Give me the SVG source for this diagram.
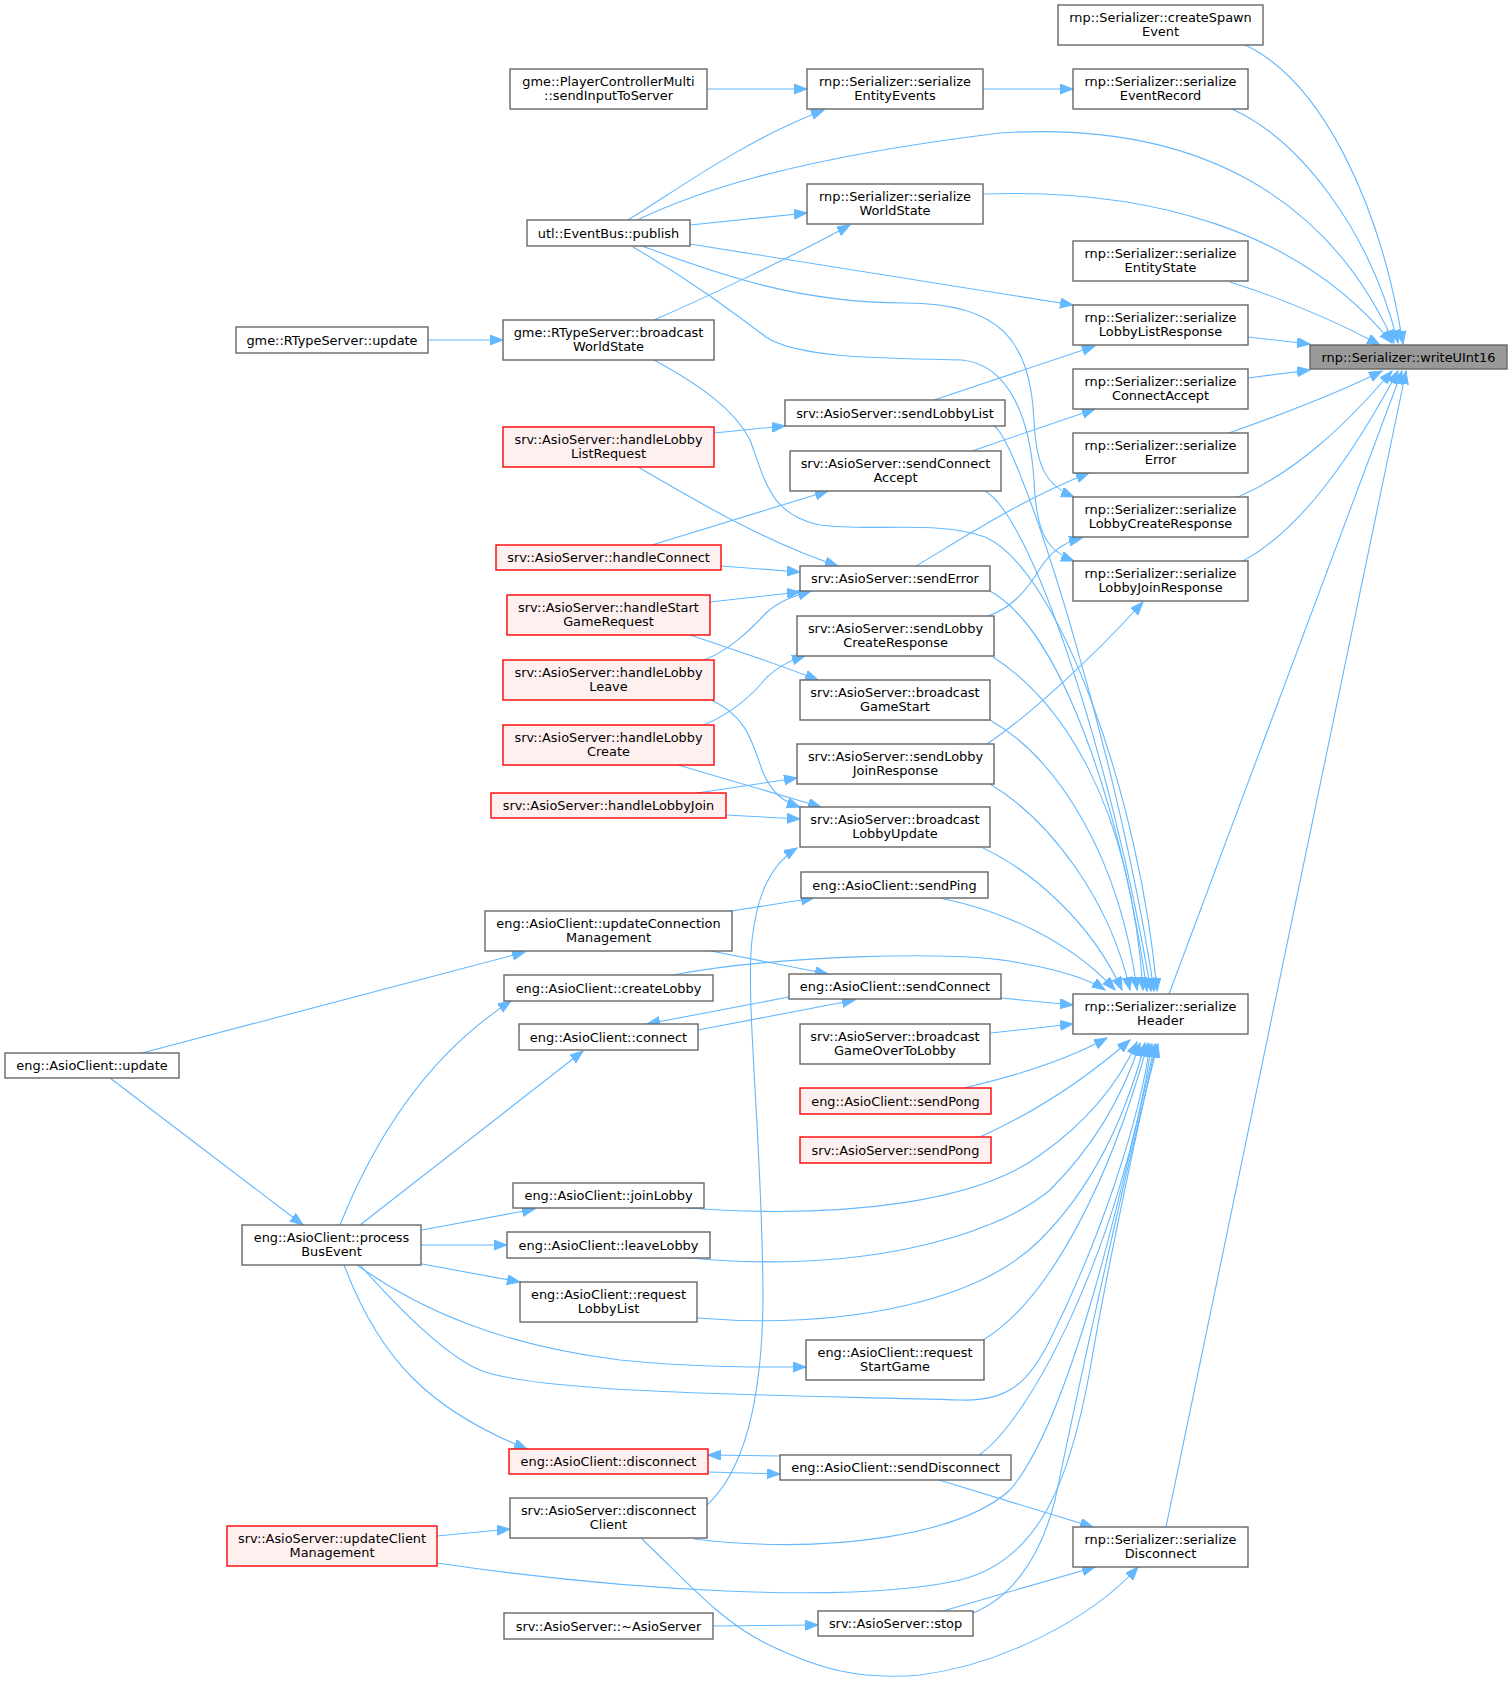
<svg xmlns="http://www.w3.org/2000/svg" width="1512" height="1681" viewBox="0 0 1512 1681">
<style>
rect{stroke-width:1.4}
.n rect{fill:#ffffff;stroke:#666666}
.r rect{fill:#fff0f0;stroke:#ff0000}
.f rect{fill:#999999;stroke:#666666}
text{font-family:"DejaVu Sans","Liberation Sans",sans-serif;font-size:12.9px;fill:#000;text-anchor:middle}
#edges path{fill:none;stroke:#63b8ff;stroke-width:1.1;marker-end:url(#a)}
</style>
<defs>
<marker id="a" markerWidth="14" markerHeight="11" refX="13" refY="5" orient="auto" markerUnits="userSpaceOnUse"><path d="M0,0 L13,5 L0,10 z" fill="#63b8ff" stroke="#63b8ff" stroke-width="1"/></marker>
</defs>
<rect width="1512" height="1681" fill="#ffffff" stroke="none"/>
<g id="edges">
<path d="M1245,45 C1320,80 1380,200 1403,344"/>
<path d="M1232,109 C1300,140 1370,230 1398,343"/>
<path d="M637,220 C690,195 780,160 1000,133 C1200,120 1330,200 1394,343"/>
<path d="M983,194 C1150,188 1300,230 1392,343"/>
<path d="M1230,282 C1280,298 1330,318 1380,345"/>
<path d="M1248,337 L1310,344"/>
<path d="M1248,378 L1310,370"/>
<path d="M1229,433 C1280,415 1340,392 1382,371"/>
<path d="M1238,497 C1300,470 1350,420 1392,371"/>
<path d="M1243,561 C1300,530 1350,460 1398,371"/>
<path d="M1169,994 L1402,371"/>
<path d="M1166,1527 L1406,371"/>
<path d="M707,89 L807,89"/>
<path d="M983,89 L1073,89"/>
<path d="M628,220 C680,188 745,140 824,110"/>
<path d="M690,225 L807,213"/>
<path d="M690,244 L1073,305"/>
<path d="M642,246 C720,275 800,303 905,303 C1000,303 1030,340 1034,420 C1036,465 1045,485 1074,497"/>
<path d="M633,247 C690,280 730,310 766,337 C800,360 900,358 962,360 C1010,365 1030,420 1034,480 C1036,530 1045,550 1074,561"/>
<path d="M654,320 C700,300 790,258 850,225"/>
<path d="M428,340 L503,340"/>
<path d="M654,360 C700,385 735,410 750,440 C765,480 770,515 820,525 C870,532 940,520 985,537 C1060,570 1140,800 1157,991"/>
<path d="M714,433 L785,426"/>
<path d="M638,467 C690,497 760,540 838,566"/>
<path d="M934,400 L1095,346"/>
<path d="M994,426 C1020,440 1120,760 1154,991"/>
<path d="M985,491 C1030,515 1110,750 1151,991"/>
<path d="M972,451 L1095,409"/>
<path d="M652,545 L828,491"/>
<path d="M721,566 L800,572"/>
<path d="M710,602 L800,592"/>
<path d="M690,635 C720,645 780,665 818,680"/>
<path d="M704,660 C730,650 750,630 766,613 C780,600 795,596 811,591"/>
<path d="M711,700 C745,715 752,740 762,770 C772,795 785,802 800,807"/>
<path d="M704,725 C730,714 752,696 766,678 C780,665 792,660 805,656"/>
<path d="M678,765 L821,807"/>
<path d="M697,793 L797,778"/>
<path d="M726,815 L800,819"/>
<path d="M916,566 C960,540 1020,500 1089,473"/>
<path d="M990,591 C1060,630 1120,800 1147,991"/>
<path d="M988,616 C1015,607 1030,585 1041,567 C1052,550 1065,542 1082,538"/>
<path d="M993,657 C1060,700 1130,800 1143,990"/>
<path d="M990,720 C1060,760 1120,860 1137,990"/>
<path d="M987,744 C1030,715 1090,660 1143,602"/>
<path d="M990,784 C1050,820 1110,900 1130,990"/>
<path d="M983,848 C1030,870 1090,920 1122,990"/>
<path d="M940,898 C1000,910 1070,940 1115,990"/>
<path d="M732,911 L814,898"/>
<path d="M711,951 L828,974"/>
<path d="M673,975 C780,955 960,950 1020,963 C1060,970 1090,980 1105,990"/>
<path d="M789,997 L647,1024"/>
<path d="M698,1030 L855,1000"/>
<path d="M1001,998 L1073,1005"/>
<path d="M991,1033 L1073,1024"/>
<path d="M964,1088 C1020,1075 1070,1058 1107,1038"/>
<path d="M980,1137 C1040,1110 1090,1075 1130,1040"/>
<path d="M687,1208 C850,1220 980,1200 1040,1155 C1090,1120 1120,1080 1137,1042"/>
<path d="M680,1257 C850,1275 990,1240 1050,1190 C1100,1140 1125,1090 1140,1043"/>
<path d="M697,1318 C850,1330 980,1300 1040,1240 C1100,1180 1130,1100 1145,1043"/>
<path d="M983,1340 C1050,1300 1110,1180 1148,1043"/>
<path d="M360,1265 C400,1310 450,1360 485,1372 C560,1395 800,1395 960,1400 C1010,1402 1030,1380 1050,1340 C1100,1240 1140,1120 1150,1044"/>
<path d="M979,1455 C1030,1420 1120,1250 1152,1044"/>
<path d="M694,1539 C830,1555 960,1535 1010,1490 C1070,1420 1120,1200 1155,1044"/>
<path d="M437,1563 C620,1590 850,1605 960,1580 C1040,1560 1070,1480 1090,1370 C1110,1250 1140,1120 1156,1044"/>
<path d="M973,1613 C1010,1598 1040,1560 1055,1500 C1080,1380 1130,1150 1158,1044"/>
<path d="M142,1053 L525,952"/>
<path d="M110,1078 L303,1225"/>
<path d="M340,1225 C370,1150 420,1060 511,1001"/>
<path d="M360,1225 L583,1051"/>
<path d="M422,1230 L535,1209"/>
<path d="M421,1245 L507,1245"/>
<path d="M422,1264 L520,1282"/>
<path d="M357,1265 C420,1310 500,1345 620,1360 C700,1368 760,1367 806,1367"/>
<path d="M344,1265 C380,1360 430,1410 527,1449"/>
<path d="M780,1456 L708,1455"/>
<path d="M708,1472 L780,1474"/>
<path d="M939,1480 L1093,1527"/>
<path d="M707,1505 C745,1470 762,1400 763,1300 C763,1150 745,1000 752,940 C757,895 770,865 797,848"/>
<path d="M642,1539 C690,1585 720,1620 765,1643 C820,1670 860,1680 920,1675 C1000,1665 1090,1620 1138,1567"/>
<path d="M437,1536 L510,1529"/>
<path d="M713,1626 L818,1625"/>
<path d="M943,1611 L1095,1567"/>
</g>
<g id="writeUInt16" class="f"><rect x="1310" y="345" width="197" height="24"/><text x="1408.5" y="361.5">rnp::Serializer::writeUInt16</text></g>
<g id="createSpawnEvent" class="n"><rect x="1058" y="5" width="205" height="40"/><text x="1160.5" y="21.5">rnp::Serializer::createSpawn</text><text x="1160.5" y="36">Event</text></g>
<g id="serializeEventRecord" class="n"><rect x="1073" y="69" width="175" height="40"/><text x="1160.5" y="85.5">rnp::Serializer::serialize</text><text x="1160.5" y="100">EventRecord</text></g>
<g id="serializeEntityState" class="n"><rect x="1073" y="241" width="175" height="40"/><text x="1160.5" y="257.5">rnp::Serializer::serialize</text><text x="1160.5" y="272">EntityState</text></g>
<g id="serializeLobbyListResponse" class="n"><rect x="1073" y="305" width="175" height="40"/><text x="1160.5" y="321.5">rnp::Serializer::serialize</text><text x="1160.5" y="336">LobbyListResponse</text></g>
<g id="serializeConnectAccept" class="n"><rect x="1073" y="369" width="175" height="40"/><text x="1160.5" y="385.5">rnp::Serializer::serialize</text><text x="1160.5" y="400">ConnectAccept</text></g>
<g id="serializeError" class="n"><rect x="1073" y="433" width="175" height="40"/><text x="1160.5" y="449.5">rnp::Serializer::serialize</text><text x="1160.5" y="464">Error</text></g>
<g id="serializeLobbyCreateResponse" class="n"><rect x="1073" y="497" width="175" height="40"/><text x="1160.5" y="513.5">rnp::Serializer::serialize</text><text x="1160.5" y="528">LobbyCreateResponse</text></g>
<g id="serializeLobbyJoinResponse" class="n"><rect x="1073" y="561" width="175" height="40"/><text x="1160.5" y="577.5">rnp::Serializer::serialize</text><text x="1160.5" y="592">LobbyJoinResponse</text></g>
<g id="serializeHeader" class="n"><rect x="1073" y="994" width="175" height="40"/><text x="1160.5" y="1010.5">rnp::Serializer::serialize</text><text x="1160.5" y="1025">Header</text></g>
<g id="serializeDisconnect" class="n"><rect x="1073" y="1527" width="175" height="40"/><text x="1160.5" y="1543.5">rnp::Serializer::serialize</text><text x="1160.5" y="1558">Disconnect</text></g>
<g id="serializeEntityEvents" class="n"><rect x="807" y="69" width="176" height="40"/><text x="895" y="85.5">rnp::Serializer::serialize</text><text x="895" y="100">EntityEvents</text></g>
<g id="serializeWorldState" class="n"><rect x="807" y="184" width="176" height="40"/><text x="895" y="200.5">rnp::Serializer::serialize</text><text x="895" y="215">WorldState</text></g>
<g id="sendLobbyList" class="n"><rect x="785" y="400" width="220" height="26"/><text x="895" y="417.5">srv::AsioServer::sendLobbyList</text></g>
<g id="sendConnectAccept" class="n"><rect x="790" y="451" width="211" height="40"/><text x="895.5" y="467.5">srv::AsioServer::sendConnect</text><text x="895.5" y="482">Accept</text></g>
<g id="sendError" class="n"><rect x="800" y="566" width="190" height="25"/><text x="895" y="583">srv::AsioServer::sendError</text></g>
<g id="sendLobbyCreateResponse" class="n"><rect x="797" y="616" width="197" height="40"/><text x="895.5" y="632.5">srv::AsioServer::sendLobby</text><text x="895.5" y="647">CreateResponse</text></g>
<g id="broadcastGameStart" class="n"><rect x="800" y="680" width="190" height="40"/><text x="895" y="696.5">srv::AsioServer::broadcast</text><text x="895" y="711">GameStart</text></g>
<g id="sendLobbyJoinResponse" class="n"><rect x="797" y="744" width="197" height="40"/><text x="895.5" y="760.5">srv::AsioServer::sendLobby</text><text x="895.5" y="775">JoinResponse</text></g>
<g id="broadcastLobbyUpdate" class="n"><rect x="800" y="807" width="190" height="40"/><text x="895" y="823.5">srv::AsioServer::broadcast</text><text x="895" y="838">LobbyUpdate</text></g>
<g id="sendPing" class="n"><rect x="801" y="872" width="187" height="26"/><text x="894.5" y="889.5">eng::AsioClient::sendPing</text></g>
<g id="engSendConnect" class="n"><rect x="789" y="974" width="212" height="25"/><text x="895" y="991">eng::AsioClient::sendConnect</text></g>
<g id="broadcastGameOverToLobby" class="n"><rect x="800" y="1024" width="190" height="40"/><text x="895" y="1040.5">srv::AsioServer::broadcast</text><text x="895" y="1055">GameOverToLobby</text></g>
<g id="engSendPong" class="r"><rect x="800" y="1088" width="191" height="26"/><text x="895.5" y="1105.5">eng::AsioClient::sendPong</text></g>
<g id="srvSendPong" class="r"><rect x="800" y="1137" width="191" height="26"/><text x="895.5" y="1154.5">srv::AsioServer::sendPong</text></g>
<g id="requestStartGame" class="n"><rect x="806" y="1340" width="178" height="40"/><text x="895" y="1356.5">eng::AsioClient::request</text><text x="895" y="1371">StartGame</text></g>
<g id="sendDisconnect" class="n"><rect x="780" y="1455" width="231" height="25"/><text x="895.5" y="1472">eng::AsioClient::sendDisconnect</text></g>
<g id="stop" class="n"><rect x="818" y="1611" width="155" height="25"/><text x="895.5" y="1628">srv::AsioServer::stop</text></g>
<g id="sendInputToServer" class="n"><rect x="510" y="69" width="197" height="40"/><text x="608.5" y="85.5">gme::PlayerControllerMulti</text><text x="608.5" y="100">::sendInputToServer</text></g>
<g id="publish" class="n"><rect x="527" y="220" width="163" height="26"/><text x="608.5" y="237.5">utl::EventBus::publish</text></g>
<g id="broadcastWorldState" class="n"><rect x="503" y="320" width="211" height="40"/><text x="608.5" y="336.5">gme::RTypeServer::broadcast</text><text x="608.5" y="351">WorldState</text></g>
<g id="handleLobbyListRequest" class="r"><rect x="503" y="427" width="211" height="40"/><text x="608.5" y="443.5">srv::AsioServer::handleLobby</text><text x="608.5" y="458">ListRequest</text></g>
<g id="handleConnect" class="r"><rect x="496" y="545" width="225" height="25"/><text x="608.5" y="562">srv::AsioServer::handleConnect</text></g>
<g id="handleStartGameRequest" class="r"><rect x="507" y="595" width="203" height="40"/><text x="608.5" y="611.5">srv::AsioServer::handleStart</text><text x="608.5" y="626">GameRequest</text></g>
<g id="handleLobbyLeave" class="r"><rect x="503" y="660" width="211" height="40"/><text x="608.5" y="676.5">srv::AsioServer::handleLobby</text><text x="608.5" y="691">Leave</text></g>
<g id="handleLobbyCreate" class="r"><rect x="503" y="725" width="211" height="40"/><text x="608.5" y="741.5">srv::AsioServer::handleLobby</text><text x="608.5" y="756">Create</text></g>
<g id="handleLobbyJoin" class="r"><rect x="491" y="793" width="235" height="25"/><text x="608.5" y="810">srv::AsioServer::handleLobbyJoin</text></g>
<g id="updateConnectionManagement" class="n"><rect x="485" y="911" width="247" height="40"/><text x="608.5" y="927.5">eng::AsioClient::updateConnection</text><text x="608.5" y="942">Management</text></g>
<g id="createLobby" class="n"><rect x="504" y="975" width="209" height="26"/><text x="608.5" y="992.5">eng::AsioClient::createLobby</text></g>
<g id="connect" class="n"><rect x="519" y="1024" width="179" height="26"/><text x="608.5" y="1041.5">eng::AsioClient::connect</text></g>
<g id="joinLobby" class="n"><rect x="513" y="1183" width="191" height="25"/><text x="608.5" y="1200">eng::AsioClient::joinLobby</text></g>
<g id="leaveLobby" class="n"><rect x="507" y="1232" width="203" height="26"/><text x="608.5" y="1249.5">eng::AsioClient::leaveLobby</text></g>
<g id="requestLobbyList" class="n"><rect x="520" y="1282" width="177" height="40"/><text x="608.5" y="1298.5">eng::AsioClient::request</text><text x="608.5" y="1313">LobbyList</text></g>
<g id="disconnect" class="r"><rect x="509" y="1449" width="199" height="25"/><text x="608.5" y="1466">eng::AsioClient::disconnect</text></g>
<g id="disconnectClient" class="n"><rect x="510" y="1498" width="197" height="40"/><text x="608.5" y="1514.5">srv::AsioServer::disconnect</text><text x="608.5" y="1529">Client</text></g>
<g id="asioServerDtor" class="n"><rect x="504" y="1613" width="209" height="26"/><text x="608.5" y="1630.5">srv::AsioServer::~AsioServer</text></g>
<g id="rtypeServerUpdate" class="n"><rect x="236" y="327" width="192" height="26"/><text x="332" y="344.5">gme::RTypeServer::update</text></g>
<g id="processBusEvent" class="n"><rect x="242" y="1225" width="179" height="40"/><text x="331.5" y="1241.5">eng::AsioClient::process</text><text x="331.5" y="1256">BusEvent</text></g>
<g id="updateClientManagement" class="r"><rect x="227" y="1526" width="210" height="40"/><text x="332" y="1542.5">srv::AsioServer::updateClient</text><text x="332" y="1557">Management</text></g>
<g id="asioClientUpdate" class="n"><rect x="5" y="1053" width="174" height="25"/><text x="92" y="1070">eng::AsioClient::update</text></g>
</svg>
